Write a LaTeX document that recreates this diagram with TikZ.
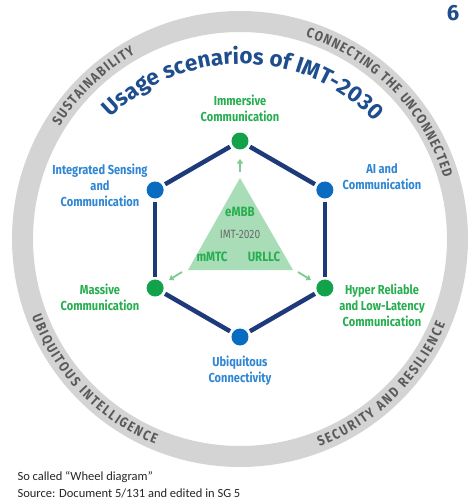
\documentclass[tikz,border=0pt]{standalone}
\usepackage{fontspec}
\setmainfont{Fira Sans}
\newfontfamily\labfont[FakeStretch=0.85]{Fira Sans}
\newfontfamily\notefont{Carlito}
\usetikzlibrary{decorations.text, arrows.meta}
\definecolor{ringgray}{HTML}{D4D4D4}
\definecolor{ringtext}{HTML}{5A5A5A}
\definecolor{titleblue}{HTML}{1F4E8F}
\definecolor{hexnavy}{HTML}{1F3A7A}
\definecolor{dotblue}{HTML}{0A6CC0}
\definecolor{dotgreen}{HTML}{12A34A}
\definecolor{labblue}{HTML}{2F86D4}
\definecolor{labgreen}{HTML}{27AE50}
\definecolor{trifill}{HTML}{A9DDB7}
\definecolor{arrowgreen}{HTML}{7DCB93}
\definecolor{trigray}{HTML}{6B6B6B}
\newcommand{\ringfont}{\labfont\bfseries\fontsize{14}{15}\selectfont\color{ringtext}}
\newcommand{\titlefont}{\bfseries\fontsize{22.5}{24}\selectfont\color{titleblue}}
\begin{document}
\begin{tikzpicture}[x=1pt,y=1pt,
  labstyle/.style={align=center, font=\labfont\bfseries\fontsize{13}{16}\selectfont},
  bluelab/.style={labstyle, text=labblue},
  greenlab/.style={labstyle, text=labgreen},
  bdot/.style={circle, fill=dotblue, minimum size=17pt, inner sep=0pt, outer sep=3pt},
  gdot/.style={circle, fill=dotgreen, minimum size=17pt, inner sep=0pt, outer sep=3pt},
  hexline/.style={draw=hexnavy, line width=4.5pt},
  smallarrow/.style={draw=arrowgreen, line width=1.8pt, -{Triangle[length=4.5pt,width=6pt]}},
  ringtxt/.style={decorate, decoration={text along path, text align={fit to path}, text={|\ringfont|#1}}},
  notestyle/.style={anchor=west, font=\notefont\fontsize{12.5}{14}\selectfont, text=black!85}
]
\useasboundingbox (-240,-262) rectangle (227,239);
\fill[white] (-240,-262) rectangle (227,239);

% ring
\draw[draw=ringgray, line width=21pt] (0,0) circle[radius=217.5pt];

% ring texts
\path[ringtxt={SUSTAINABILITY}] (148:212.7) arc[start angle=148, end angle=119.5, radius=212.7pt];
\path[ringtxt={CONNECTING THE UNCONNECTED}] (72:212.7) arc[start angle=72, end angle=16.8, radius=212.7pt];
\path[ringtxt={UBIQUITOUS INTELLIGENCE}] (200.5:222.3) arc[start angle=200.5, end angle=247.5, radius=222.3pt];
\path[ringtxt={SECURITY AND RESILIENCE}] (291:222.3) arc[start angle=291, end angle=337.5, radius=222.3pt];

% title
\path[decorate, decoration={text along path, text align={fit to path}, text={|\titlefont|Usage scenarios of IMT-2030}}]
  ([shift={(1,-9)}]135:184) arc[start angle=135, end angle=44.5, radius=184pt];

% hexagon
\node[gdot] (v1) at (90:98) {};
\node[bdot] (v2) at (30:98) {};
\node[gdot] (v3) at (-30:98) {};
\node[bdot] (v4) at (-90:98) {};
\node[gdot] (v5) at (-150:98) {};
\node[bdot] (v6) at (150:98) {};
\draw[hexline] (v1) -- (v2);
\draw[hexline] (v2) -- (v3);
\draw[hexline] (v3) -- (v4);
\draw[hexline] (v4) -- (v5);
\draw[hexline] (v5) -- (v6);
\draw[hexline] (v6) -- (v1);

% triangle
\fill[trifill] (0,61) -- (-52,-31) -- (53,-31) -- cycle;
\node[font=\labfont\bfseries\fontsize{13.5}{15}\selectfont, text=labgreen] (embb) at (0,27) {eMBB};
\node[font=\labfont\fontsize{12}{14}\selectfont, text=trigray] (imt) at (0,5) {IMT-2020};
\node[font=\labfont\bfseries\fontsize{13.5}{15}\selectfont, text=labgreen] (mmtc) at (-28,-18) {mMTC};
\node[font=\labfont\bfseries\fontsize{13.5}{15}\selectfont, text=labgreen] (urllc) at (24,-18) {URLLC};

% small arrows
\coordinate (a1s) at (0,67); \coordinate (a1e) at (0,80);
\coordinate (a2s) at (-58,-33); \coordinate (a2e) at (-71,-41);
\coordinate (a3s) at (58,-33); \coordinate (a3e) at (71,-41);
\draw[smallarrow] (a1s) -- (a1e);
\draw[smallarrow] (a2s) -- (a2e);
\draw[smallarrow] (a3s) -- (a3e);

% labels
\node[greenlab] (l1) at (0,131) {Immersive\\Communication};
\node[bluelab] (l2) at (142,62) {AI and\\Communication};
\node[greenlab] (l3) at (142,-66) {Hyper Reliable\\and Low-Latency\\Communication};
\node[bluelab] (l4) at (0,-132) {Ubiquitous\\Connectivity};
\node[greenlab] (l5) at (-140,-58) {Massive\\Communication};
\node[bluelab] (l6) at (-140,54) {Integrated Sensing\\and\\Communication};

% page number and notes
\node[font=\bfseries\fontsize{22}{24}\selectfont, text=titleblue] (pg) at (213,226) {6};
\node[notestyle] (n1) at (-226,-238) {So called “Wheel diagram”};
\node[notestyle] (n2) at (-226,-254) {Source: Document 5/131 and edited in SG 5};
\end{tikzpicture}
\end{document}
